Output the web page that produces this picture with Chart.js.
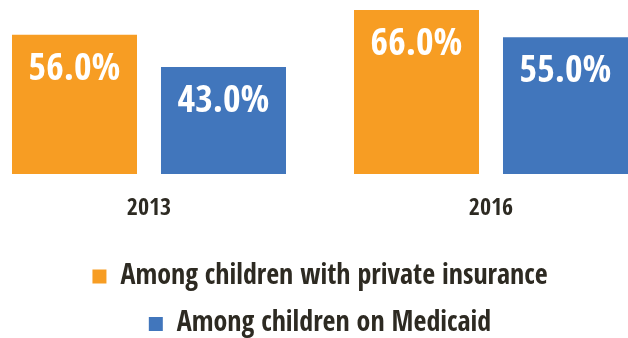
<!DOCTYPE html>
<html>
<head>
<meta charset="utf-8">
<script src="https://cdn.jsdelivr.net/npm/chart.js@4"></script>
<style>
  html, body { margin: 0; padding: 0; background: #ffffff; overflow: hidden; width: 628px; height: 338px; }
  #wrap { position: absolute; left: -22px; top: 0; width: 684px; height: 348px; }
</style>
</head>
<body>
<div id="wrap"><canvas id="c"></canvas></div>
<script>
const categories = ['2013', '2016'];
const seriesNames = ['Among children with private insurance', 'Among children on Medicaid'];
const privateValues = [56.0, 66.0];
const medicaidValues = [43.0, 55.0];

const FONT = "'Open Sans Condensed', 'Roboto Condensed', 'DejaVu Sans Condensed', sans-serif";
const ORANGE = '#F79D23';
const BLUE = '#4176BC';
const TEXT = '#2D2A22';

const barLabels = {
  id: 'barLabels',
  afterDatasetsDraw(chart) {
    const ctx = chart.ctx;
    ctx.save();
    ctx.fillStyle = '#ffffff';
    ctx.font = 'bold 38px ' + FONT;
    ctx.textAlign = 'center';
    ctx.textBaseline = 'middle';
    chart.data.datasets.forEach((ds, di) => {
      const meta = chart.getDatasetMeta(di);
      meta.data.forEach((el, i) => {
        ctx.fillText(ds.data[i].toFixed(1) + '%', el.x, el.y + 35);
      });
    });
    ctx.restore();
  }
};

new Chart(document.getElementById('c'), {
  type: 'bar',
  data: {
    labels: categories,
    datasets: [
      { label: seriesNames[0], data: privateValues, backgroundColor: ORANGE, borderWidth: 0 },
      { label: seriesNames[1], data: medicaidValues, backgroundColor: BLUE, borderWidth: 0 }
    ]
  },
  options: {
    responsive: true,
    maintainAspectRatio: false,
    animation: false,
    layout: { padding: 0 },
    categoryPercentage: 0.8713,
    barPercentage: 0.839,
    scales: {
      x: {
        grid: { display: false, drawTicks: false },
        border: { display: false },
        ticks: { color: TEXT, padding: 20, font: { family: FONT, size: 24, weight: 'bold' } },
        afterFit(scale) { scale.height = 69; }
      },
      y: {
        display: false,
        min: 0,
        max: 70
      }
    },
    plugins: {
      legend: {
        position: 'bottom',
        labels: {
          color: TEXT,
          boxWidth: 14,
          boxHeight: 14,
          padding: 19.5,
          font: { family: FONT, size: 28, weight: 'bold' }
        }
      },
      tooltip: { enabled: false }
    }
  },
  plugins: [barLabels]
});
</script>
</body>
</html>
